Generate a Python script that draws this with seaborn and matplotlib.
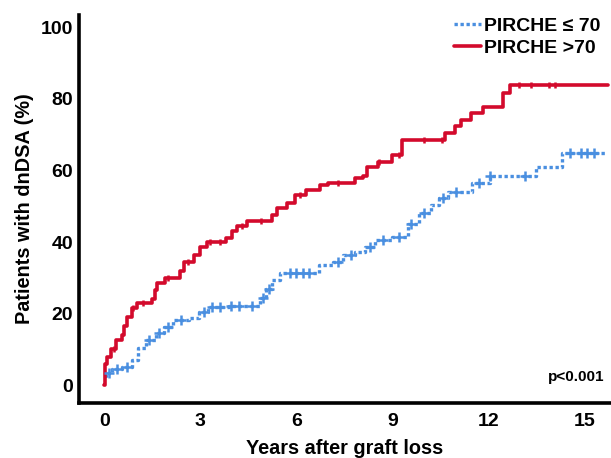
import numpy as np
import pandas as pd
import matplotlib
matplotlib.use('Agg')
import matplotlib.pyplot as plt
import seaborn as sns
from matplotlib.lines import Line2D

# step curves (years, cumulative % with dnDSA)
high_t = [0, 0.02, 0.08, 0.2, 0.35, 0.55, 0.62, 0.72, 0.87, 1.03, 1.5, 1.58, 1.65, 1.9,
          2.35, 2.5, 2.8, 3.0, 3.2, 3.8, 4.0, 4.15, 4.45, 5.25, 5.4, 5.7, 5.95, 6.3, 6.75,
          7.0, 7.85, 8.1, 8.2, 8.55, 9.0, 9.3, 10.65, 10.95, 11.15, 11.45, 11.85, 12.45,
          12.68, 15.75]
high_v = [0, 6, 8, 10, 12.5, 14, 16.5, 19, 21.5, 23, 24, 26.5, 28.5, 30,
          32, 34.5, 36.5, 38.5, 40, 41, 43, 44.5, 46, 47.5, 49.5, 51, 53, 54.5, 55.8,
          56.5, 57.8, 58.5, 61, 62.3, 64.2, 68.5, 70.5, 72.5, 74, 76, 77.8, 81.5,
          83.8, 83.8]
high_cens = [0.3, 0.9, 1.2, 2.0, 2.6, 3.3, 3.6, 4.3, 4.9, 6.1, 7.3, 8.6, 9.2, 10.0, 10.55,
             12.95, 13.35, 13.9, 14.1]

low_t = [0, 0.05, 0.25, 0.55, 0.85, 1.05, 1.3, 1.6, 1.85, 2.15, 2.65, 2.95, 3.25, 3.9,
         4.85, 5.05, 5.25, 5.5, 6.7, 7.15, 7.45, 7.85, 8.15, 8.45, 9.0, 9.5, 9.85, 10.2,
         10.45, 10.75, 11.5, 12.05, 13.5, 14.3, 15.7]
low_v = [2.5, 3.5, 4.5, 5, 7, 10.5, 12.5, 14.5, 16.2, 18.2, 18.8, 20.4, 21.8, 22.2,
         24.3, 27, 29.5, 31.3, 33.5, 34.5, 36.3, 37.2, 38.5, 40.5, 41.3, 45, 48, 50.3,
         52.2, 54, 56.4, 58.4, 61, 64.8, 64.8]
low_cens = [0.15, 0.4, 0.7, 1.4, 1.7, 2.0, 2.4, 3.1, 3.35, 3.6, 3.95, 4.2, 4.6, 4.95, 5.15,
            5.8, 6.0, 6.2, 6.4, 7.3, 7.7, 8.3, 8.7, 9.2, 9.6, 10.0, 10.6, 11.0, 11.7,
            12.05, 13.15, 14.55, 14.9, 15.1, 15.3]

red = '#d30a2c'
blue = '#4a8fe0'


def step_at(ts, vs, c):
    idx = np.searchsorted(ts, c, side='right') - 1
    return np.array(vs)[idx]


df_high = pd.DataFrame({'t': high_t, 'v': high_v})
df_low = pd.DataFrame({'t': low_t, 'v': low_v})

sns.set_style('white')
plt.rcParams['font.family'] = ['Liberation Sans', 'DejaVu Sans']
plt.rcParams['font.weight'] = 'bold'
plt.rcParams['text.color'] = 'black'
plt.rcParams['axes.labelcolor'] = 'black'
plt.rcParams['xtick.color'] = 'black'
plt.rcParams['ytick.color'] = 'black'

fig = plt.figure(figsize=(6.11, 4.58), dpi=100)
ax = fig.add_axes([0.129, 0.12, 0.869, 0.847])

dots = (0, (1.0, 0.8))
sns.lineplot(data=df_low, x='t', y='v', ax=ax, color=blue, lw=2.4, linestyle=dots,
             drawstyle='steps-post', estimator=None, sort=False)
sns.lineplot(data=df_high, x='t', y='v', ax=ax, color=red, lw=2.6,
             drawstyle='steps-post', estimator=None, sort=False)

ax.plot(low_cens, step_at(low_t, low_v, low_cens), '+', color=blue, ms=7, mew=1.8)
ax.plot(high_cens, step_at(high_t, high_v, high_cens), '|', color=red, ms=5, mew=1.8)

ax.set_xlim(-0.8, 15.8)
ax.set_ylim(-5, 103.4)
ax.set_xticks([0, 3, 6, 9, 12, 15])
ax.set_yticks([0, 20, 40, 60, 80, 100])
ax.tick_params(length=0, labelsize=14, colors='black')
ax.tick_params(axis='x', pad=7)
ax.tick_params(axis='y', pad=4)
for lab in ax.get_xticklabels() + ax.get_yticklabels():
    lab.set_fontweight('bold')

ax.set_xlabel('Years after graft loss', fontsize=14.3, fontweight='bold', labelpad=7)
ax.set_ylabel('Patients with dnDSA (%)', fontsize=14.3, fontweight='bold', labelpad=5)

sns.despine(ax=ax)
for s in ['left', 'bottom']:
    ax.spines[s].set_linewidth(2.6)
    ax.spines[s].set_color('black')

ax.text(0.99, 0.05, 'p<0.001', transform=ax.transAxes, ha='right', va='bottom',
        fontsize=11, fontweight='bold', color='black')

handles = [Line2D([], [], color=blue, lw=2.4, linestyle=dots),
           Line2D([], [], color=red, lw=2.6, drawstyle='steps-mid')]
ax.legend(handles, ['PIRCHE ≤ 70', 'PIRCHE >70'], loc='upper right', frameon=False,
          handlelength=1.4, handletextpad=0.15, borderaxespad=0.1,
          labelspacing=0.25, bbox_to_anchor=(1.0, 1.02), prop={'weight': 'bold', 'size': 14})

fig.savefig('out.png', dpi=100)
